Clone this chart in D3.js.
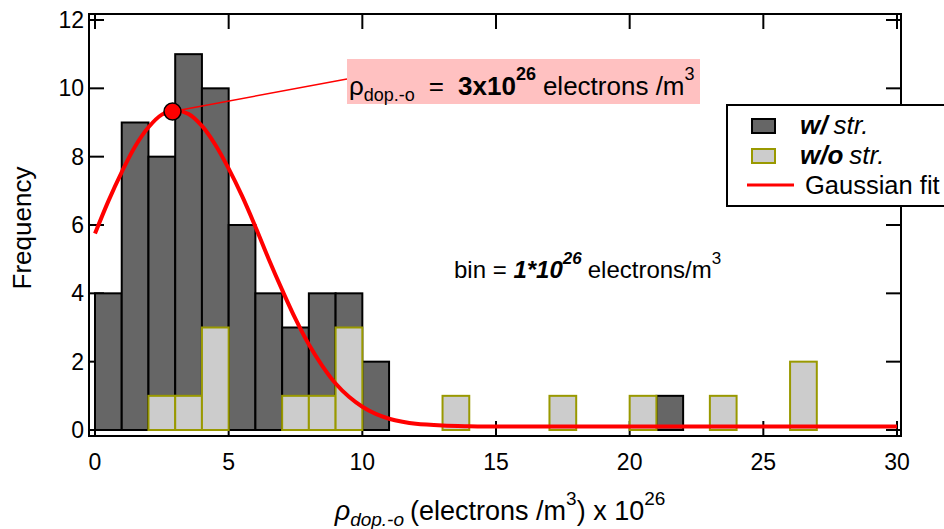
<!DOCTYPE html>
<html>
<head>
<meta charset="utf-8">
<script src="https://cdn.jsdelivr.net/npm/d3@7"></script>
<style>
  body { margin: 0; background: white; }
  text { font-family: "Liberation Sans", Arial, sans-serif; }
</style>
</head>
<body>
<div id="container"></div>
<script>
let w = 944;
let h = 529;

// DATA (bin start, counts per 1e26 bin)
let binStarts = [0,1,2,3,4,5,6,7,8,9,10,11,12,13,14,15,16,17,18,19,20,21,22,23,24,25,26,27,28,29];
let withStr    = [4,9,8,11,10,6,4,3,4,4,2,0,0,0,0,0,0,0,0,0,0,1,0,0,0,0,0,0,0,0];
let withoutStr = [0,0,1,1,3,0,0,1,1,3,0,0,0,1,0,0,0,1,0,0,1,0,0,1,0,0,2,0,0,0];

// gaussian fit curve
let fitX = [0,0.5,1,1.5,2,2.5,3,3.5,4,4.5,5,5.5,6,6.5,7,7.5,8,8.5,9,9.5,10,10.5,11,11.5,12,13,14,15,20,25,30];
let fitY = [5.75,6.7,7.55,8.3,8.86,9.23,9.35,9.25,8.9,8.35,7.65,6.85,5.95,5.0,4.1,3.25,2.5,1.88,1.36,0.97,0.68,0.47,0.33,0.24,0.18,0.13,0.11,0.1,0.1,0.1,0.1];

let peak = {x: 2.9, y: 9.32};

let xTicks = [0,5,10,15,20,25,30];
let yTicks = [0,2,4,6,8,10,12];

// frame
let frame = {left: 89, right: 901, top: 14, bottom: 436};
let tickLen = 15;

let viz = d3.select("#container").append("svg")
    .attr("width", w)
    .attr("height", h)
    .style("background-color", "white");

let xScale = d3.scaleLinear().domain([0, 30]).range([95, 897]);
let yScale = d3.scaleLinear().domain([0, 12]).range([430, 20]);

// ticks (inward, on all four sides)
let tickG = viz.append("g").attr("stroke", "black").attr("stroke-width", 2);
xTicks.forEach(function(t){
  tickG.append("line").attr("x1", xScale(t)).attr("x2", xScale(t))
    .attr("y1", frame.bottom).attr("y2", frame.bottom - tickLen);
  tickG.append("line").attr("x1", xScale(t)).attr("x2", xScale(t))
    .attr("y1", frame.top).attr("y2", frame.top + tickLen);
});
yTicks.forEach(function(t){
  tickG.append("line").attr("y1", yScale(t)).attr("y2", yScale(t))
    .attr("x1", frame.left).attr("x2", frame.left + tickLen);
  tickG.append("line").attr("y1", yScale(t)).attr("y2", yScale(t))
    .attr("x1", frame.right).attr("x2", frame.right - tickLen);
});

// frame lines
viz.append("rect")
  .attr("x", frame.left).attr("y", frame.top)
  .attr("width", frame.right - frame.left).attr("height", frame.bottom - frame.top)
  .attr("fill", "none").attr("stroke", "black").attr("stroke-width", 2);

// tick labels
viz.selectAll(".xlab").data(xTicks).enter()
  .append("text")
    .attr("class", "xlab")
    .attr("x", function(d){ return xScale(d); })
    .attr("y", 470)
    .attr("text-anchor", "middle")
    .attr("font-size", 23)
    .text(function(d){ return d; });

viz.selectAll(".ylab").data(yTicks).enter()
  .append("text")
    .attr("class", "ylab")
    .attr("x", 84)
    .attr("y", function(d){ return yScale(d) + 8; })
    .attr("text-anchor", "end")
    .attr("font-size", 23)
    .text(function(d){ return d; });

// bars: with strain
viz.selectAll(".bar-w").data(binStarts).enter()
  .append("rect")
    .attr("class", "bar-w")
    .attr("x", function(d){ return xScale(d); })
    .attr("width", function(d){ return xScale(d + 1) - xScale(d); })
    .attr("y", function(d, i){ return yScale(withStr[i]); })
    .attr("height", function(d, i){ return yScale(0) - yScale(withStr[i]); })
    .attr("fill", "#666666")
    .attr("stroke", "black")
    .attr("stroke-width", 2);

// bars: without strain (overlaid)
viz.selectAll(".bar-wo").data(binStarts).enter()
  .append("rect")
    .attr("class", "bar-wo")
    .attr("x", function(d){ return xScale(d); })
    .attr("width", function(d){ return xScale(d + 1) - xScale(d); })
    .attr("y", function(d, i){ return yScale(withoutStr[i]); })
    .attr("height", function(d, i){ return yScale(0) - yScale(withoutStr[i]); })
    .attr("fill", "#cccccc")
    .attr("stroke", "#999900")
    .attr("stroke-width", 2);

// gaussian fit
let lineMaker = d3.line()
  .x(function(d, i){ return xScale(fitX[i]); })
  .y(function(d){ return yScale(d); })
  .curve(d3.curveCatmullRom);

viz.append("path")
  .datum(fitY)
  .attr("d", lineMaker)
  .attr("fill", "none")
  .attr("stroke", "#ff0000")
  .attr("stroke-width", 4);

// annotation
let box = {x: 347, y: 59, w: 353, h: 45};
viz.append("line")
  .attr("x1", xScale(peak.x)).attr("y1", yScale(peak.y))
  .attr("x2", box.x).attr("y2", box.y + 20)
  .attr("stroke", "#ff0000").attr("stroke-width", 1.5);

viz.append("circle")
  .attr("cx", xScale(peak.x)).attr("cy", yScale(peak.y))
  .attr("r", 8.5)
  .attr("fill", "#ff0000")
  .attr("stroke", "black")
  .attr("stroke-width", 1.5);

viz.append("rect")
  .attr("x", box.x).attr("y", box.y)
  .attr("width", box.w).attr("height", box.h)
  .attr("fill", "#ffc1c1");

let ann = viz.append("text").attr("x", box.x + 2).attr("y", 95).attr("font-size", 26);
ann.append("tspan").text("ρ");
ann.append("tspan").attr("font-size", 18).attr("dy", 6).text("dop.-o");
ann.append("tspan").attr("dy", -6).attr("dx", 14).text("=");
ann.append("tspan").attr("dx", 14).attr("font-weight", "bold").text("3x10");
ann.append("tspan").attr("font-weight", "bold").attr("font-size", 18).attr("dy", -15).text("26");
ann.append("tspan").attr("dy", 15).attr("dx", 7).text("electrons /m");
ann.append("tspan").attr("font-size", 18).attr("dy", -15).text("3");

// bin text
let binT = viz.append("text").attr("x", 454).attr("y", 278).attr("font-size", 24);
binT.append("tspan").text("bin = ");
binT.append("tspan").attr("font-weight", "bold").attr("font-style", "italic").text("1*10");
binT.append("tspan").attr("font-weight", "bold").attr("font-style", "italic")
  .attr("font-size", 17).attr("dy", -14).text("26");
binT.append("tspan").attr("dy", 14).attr("dx", 6).text("electrons/m");
binT.append("tspan").attr("font-size", 17).attr("dy", -14).text("3");

// legend
let leg = viz.append("g");
leg.append("rect")
  .attr("x", 727).attr("y", 105).attr("width", 260).attr("height", 101)
  .attr("fill", "white").attr("stroke", "black").attr("stroke-width", 2);
leg.append("rect").attr("x", 752).attr("y", 119).attr("width", 23).attr("height", 14)
  .attr("fill", "#666666").attr("stroke", "black").attr("stroke-width", 2);
leg.append("rect").attr("x", 752).attr("y", 149).attr("width", 23).attr("height", 14)
  .attr("fill", "#cccccc").attr("stroke", "#999900").attr("stroke-width", 2);
leg.append("line").attr("x1", 747).attr("x2", 794).attr("y1", 185).attr("y2", 185)
  .attr("stroke", "#ff0000").attr("stroke-width", 3);

let l1 = leg.append("text").attr("x", 800).attr("y", 134).attr("font-size", 26).attr("font-style", "italic");
l1.append("tspan").attr("font-weight", "bold").text("w/");
l1.append("tspan").attr("dx", 6).text("str.");
let l2 = leg.append("text").attr("x", 800).attr("y", 164).attr("font-size", 26).attr("font-style", "italic");
l2.append("tspan").attr("font-weight", "bold").text("w/o");
l2.append("tspan").attr("dx", 6).text("str.");
leg.append("text").attr("x", 805).attr("y", 194).attr("font-size", 25.5).text("Gaussian fit");

// axis titles
viz.append("text")
  .attr("transform", "translate(31," + 228 + ") rotate(-90)")
  .attr("text-anchor", "middle")
  .attr("font-size", 26)
  .text("Frequency");

let xt = viz.append("text").attr("x", 500).attr("y", 520).attr("font-size", 27).attr("text-anchor", "middle");
xt.append("tspan").attr("font-style", "italic").text("ρ");
xt.append("tspan").attr("font-style", "italic").attr("font-size", 19).attr("dy", 6).text("dop.-o");
xt.append("tspan").attr("dy", -6).attr("dx", 6).text("(electrons /m");
xt.append("tspan").attr("font-size", 19).attr("dy", -15).text("3");
xt.append("tspan").attr("dy", 15).text(") x 10");
xt.append("tspan").attr("font-size", 19).attr("dy", -15).text("26");
</script>
</body>
</html>
